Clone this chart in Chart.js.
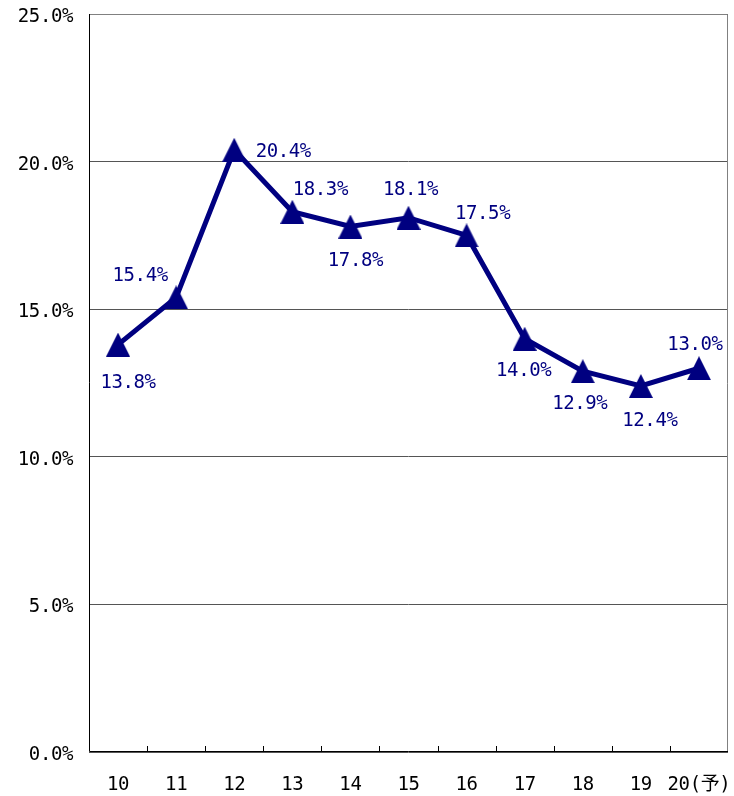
<!DOCTYPE html>
<html>
<head>
<meta charset="utf-8">
<script src="https://cdn.jsdelivr.net/npm/chart.js@4/dist/chart.umd.min.js"></script>
<style>
  html, body { margin: 0; padding: 0; background: #fff; }
  #wrap { width: 734px; height: 796px; }
</style>
</head>
<body>
<div id="wrap"><canvas id="chart" width="734" height="796"></canvas></div>
<script>
// data
const years = ['10', '11', '12', '13', '14', '15', '16', '17', '18', '19', '20(予)'];
const rates = [13.8, 15.4, 20.4, 18.3, 17.8, 18.1, 17.5, 14.0, 12.9, 12.4, 13.0];
const yTicks = [0, 5, 10, 15, 20, 25];

// where each value label sits relative to its point (px)
const labelDx = [10, -36, 49, 28, 5, 2, 16, -1, -3, 9, -4];
const labelDy = [38, -21, 2, -22, 35, -28, -21, 32, 33, 35, -23];

const NAVY = '#000080';
const FONT = '"DejaVu Sans Mono", "Liberation Mono", "Noto Sans CJK JP", monospace';
const SPACING = '-0.4px';

// triangle marker centred on its point (box centred, like the original)
const marker = document.createElement('canvas');
marker.width = 24;
marker.height = 24;
(() => {
  const c = marker.getContext('2d');
  c.fillStyle = NAVY;
  c.beginPath();
  c.moveTo(12, 0);
  c.lineTo(24, 24);
  c.lineTo(0, 24);
  c.closePath();
  c.fill();
})();

// tighten glyph spacing for all canvas text
const spacing = {
  id: 'spacing',
  beforeLayout(chart) { chart.ctx.letterSpacing = SPACING; },
  beforeDraw(chart) { chart.ctx.letterSpacing = SPACING; }
};

// frame, inner x ticks and value labels
const extras = {
  id: 'extras',
  beforeDatasetsDraw(chart) {
    const { ctx, chartArea: a, scales: { x } } = chart;
    ctx.save();
    ctx.lineWidth = 1;
    ctx.strokeStyle = '#808080';
    ctx.beginPath();
    ctx.moveTo(a.left, a.top + 0.5);
    ctx.lineTo(a.right - 0.5, a.top + 0.5);
    ctx.lineTo(a.right - 0.5, a.bottom);
    ctx.stroke();
    ctx.strokeStyle = '#000';
    ctx.beginPath();
    ctx.moveTo(a.left + 0.5, a.top);
    ctx.lineTo(a.left + 0.5, a.bottom - 0.5);
    ctx.lineTo(a.right, a.bottom - 0.5);
    for (let i = 0; i < years.length - 1; i++) {
      const px = Math.round((x.getPixelForValue(i) + x.getPixelForValue(i + 1)) / 2) + 0.5;
      ctx.moveTo(px, a.bottom);
      ctx.lineTo(px, a.bottom - 6);
    }
    ctx.stroke();
    ctx.restore();
  },
  afterDatasetsDraw(chart) {
    const { ctx } = chart;
    const meta = chart.getDatasetMeta(0);
    ctx.save();
    ctx.letterSpacing = SPACING;
    ctx.font = '19px ' + FONT;
    ctx.fillStyle = NAVY;
    ctx.textAlign = 'center';
    ctx.textBaseline = 'middle';
    meta.data.forEach((pt, i) => {
      ctx.fillText(rates[i].toFixed(1) + '%', pt.x + labelDx[i], pt.y + labelDy[i]);
    });
    ctx.restore();
  }
};

new Chart(document.getElementById('chart'), {
  type: 'line',
  data: {
    labels: years,
    datasets: [{
      data: rates,
      borderColor: NAVY,
      borderWidth: 5,
      backgroundColor: NAVY,
      pointStyle: marker,
      pointRadius: 12,
      pointHoverRadius: 12,
      tension: 0
    }]
  },
  options: {
    responsive: false,
    animation: false,
    events: [],
    layout: { autoPadding: false, padding: { left: 0, top: 14, right: 6, bottom: 0 } },
    plugins: { legend: { display: false }, tooltip: { enabled: false } },
    scales: {
      x: {
        offset: true,
        border: { display: false },
        grid: { display: false },
        ticks: {
          color: '#000',
          font: { family: FONT, size: 19 },
          padding: 14,
          maxRotation: 0,
          autoSkip: false
        },
        afterFit(scale) {
          scale.height = 44;
          scale.paddingLeft = 0;
          scale.paddingRight = 0;
        }
      },
      y: {
        min: 0,
        max: 25,
        afterBuildTicks(scale) { scale.ticks = yTicks.map(v => ({ value: v })); },
        border: { display: false },
        grid: { color: '#555', lineWidth: 1, drawTicks: false },
        ticks: {
          color: '#000',
          font: { family: FONT, size: 19 },
          padding: 16,
          labelOffset: 3,
          callback: v => v.toFixed(1) + '%'
        },
        afterFit(scale) {
          scale.width = 89;
          scale.paddingTop = 0;
          scale.paddingBottom = 0;
        }
      }
    }
  },
  plugins: [spacing, extras]
});
</script>
</body>
</html>
